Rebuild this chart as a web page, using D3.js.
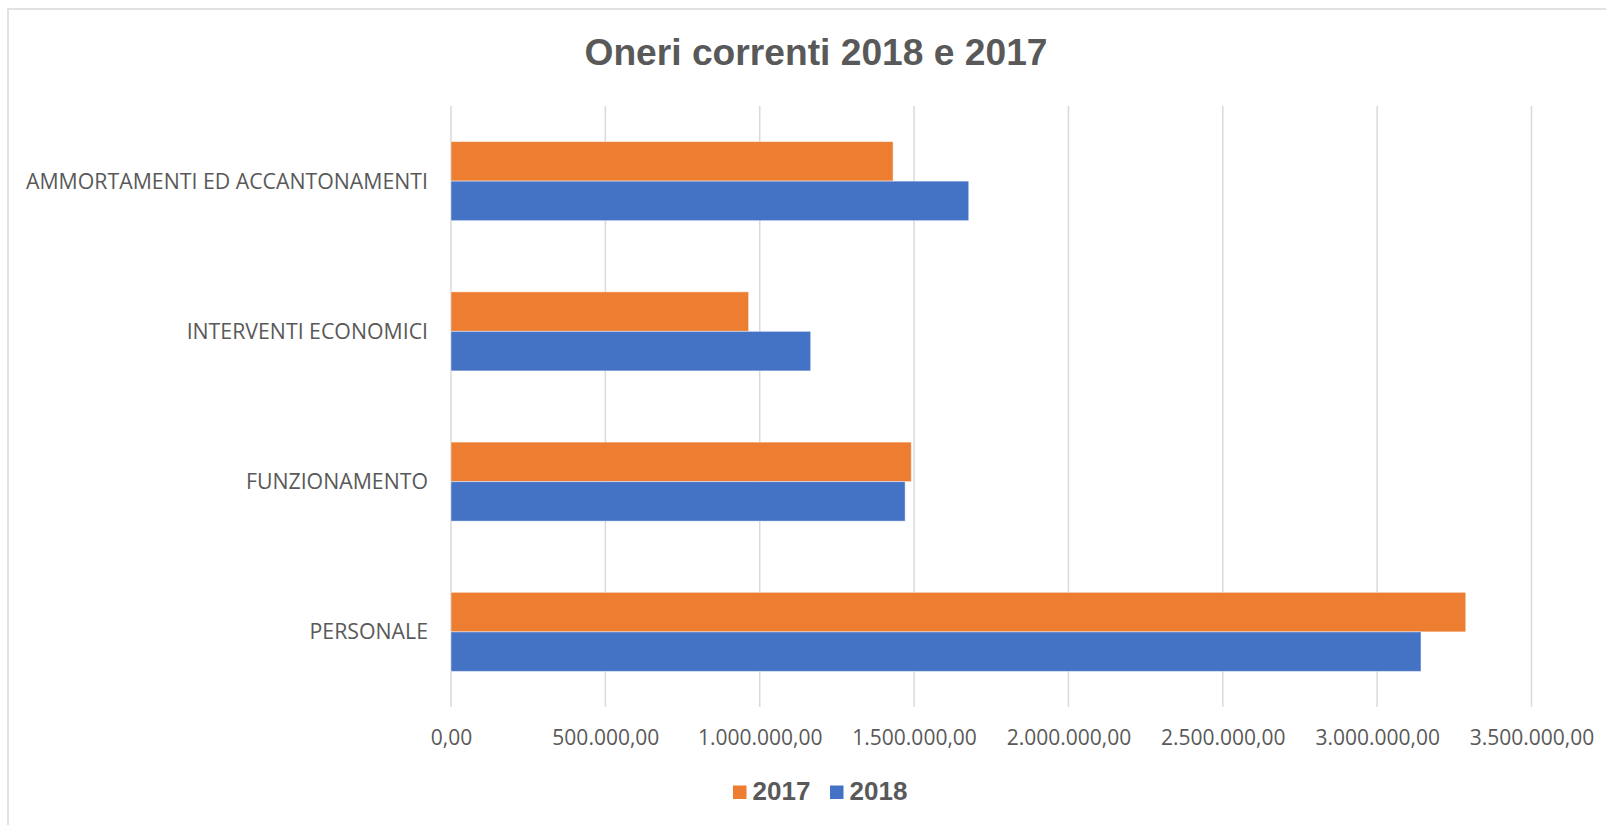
<!DOCTYPE html>
<html>
<head>
<meta charset="utf-8">
<script src="https://cdn.jsdelivr.net/npm/d3@7"></script>
<style>
  html, body { margin: 0; padding: 0; background: #fff; }
  svg { display: block; }
</style>
</head>
<body>
<svg id="chart" width="1606" height="825"></svg>
<script>
// ---- Data ----
const categories = ["AMMORTAMENTI ED ACCANTONAMENTI", "INTERVENTI ECONOMICI", "FUNZIONAMENTO", "PERSONALE"];
const seriesNames = ["2017", "2018"];
const values2017 = [1432000, 964000, 1491000, 3287000];
const values2018 = [1677000, 1165000, 1471000, 3142000];
const xTicks = [0, 500000, 1000000, 1500000, 2000000, 2500000, 3000000, 3500000];
const title = "Oneri correnti 2018 e 2017";
const colors = { "2017": "#ED7D31", "2018": "#4472C4" };

// ---- Layout ----
const W = 1606, H = 825;
const plot = { left: 451, right: 1531.5, top: 106, bottom: 707 };

const svg = d3.select("#chart");

// chart border
svg.append("rect")
  .attr("x", 8).attr("y", 9)
  .attr("width", W + 10).attr("height", H + 10)
  .attr("fill", "#fff")
  .attr("stroke", "#d9d9d9").attr("stroke-width", 1.5);

// title
svg.append("text")
  .attr("x", 816).attr("y", 65)
  .attr("text-anchor", "middle")
  .attr("font-family", "Liberation Sans, Arial, sans-serif")
  .attr("font-weight", "bold")
  .attr("font-size", 37.2)
  .attr("fill", "#595959")
  .text(title);

const x = d3.scaleLinear().domain([0, 3500000]).range([plot.left, plot.right]);
const y = d3.scaleBand().domain(categories).range([plot.top, plot.bottom])
  .paddingInner(0.474).paddingOuter(0.237);
const ySub = d3.scaleBand().domain(seriesNames).range([0, y.bandwidth()]);

const itLocale = d3.formatLocale({ decimal: ",", thousands: ".", grouping: [3], currency: ["€", ""] });
const fmt = itLocale.format(",.2f");

// gridlines
svg.append("g")
  .selectAll("line")
  .data(xTicks)
  .join("line")
  .attr("x1", d => x(d)).attr("x2", d => x(d))
  .attr("y1", plot.top).attr("y2", plot.bottom)
  .attr("stroke", "#d9d9d9").attr("stroke-width", 1.5);

// x axis (labels only)
const xAxis = d3.axisBottom(x).tickValues(xTicks).tickFormat(fmt).tickSize(0).tickPadding(0);
const gx = svg.append("g").attr("transform", `translate(0,${plot.bottom})`).call(xAxis);
gx.select(".domain").remove();
gx.selectAll("text")
  .attr("y", 38).attr("dy", 0)
  .attr("font-family", "Open Sans, sans-serif")
  .attr("font-size", 21)
  .attr("fill", "#595959");

// y axis (labels only)
const yAxis = d3.axisLeft(y).tickSize(0).tickPadding(0);
const gy = svg.append("g").attr("transform", `translate(428,0)`).call(yAxis);
gy.select(".domain").remove();
gy.selectAll("text")
  .attr("x", 0).attr("dy", "0.35em")
  .attr("font-family", "Open Sans, sans-serif")
  .attr("font-size", 21.3)
  .attr("fill", "#595959");

// bars
const rows = categories.map((c, i) => ({ cat: c, vals: [
  { s: "2017", v: values2017[i] },
  { s: "2018", v: values2018[i] }
]}));

const g = svg.append("g");
g.selectAll("g.cat")
  .data(rows)
  .join("g")
  .attr("class", "cat")
  .attr("transform", d => `translate(0,${y(d.cat)})`)
  .selectAll("rect")
  .data(d => d.vals)
  .join("rect")
  .attr("x", x(0))
  .attr("y", d => ySub(d.s))
  .attr("width", d => x(d.v) - x(0))
  .attr("height", ySub.bandwidth())
  .attr("fill", d => colors[d.s])
  .attr("stroke", "#ffffff").attr("stroke-opacity", 0.45).attr("stroke-width", 1);

// legend
const legend = svg.append("g");
const legendItems = [
  { s: "2017", x: 733 },
  { s: "2018", x: 830 }
];
legendItems.forEach(it => {
  legend.append("rect")
    .attr("x", it.x).attr("y", 785.5)
    .attr("width", 13.5).attr("height", 13.5)
    .attr("fill", colors[it.s]);
  legend.append("text")
    .attr("x", it.x + 19.5).attr("y", 799.5)
    .attr("font-family", "Liberation Sans, Arial, sans-serif")
    .attr("font-weight", "bold")
    .attr("font-size", 26)
    .attr("fill", "#595959")
    .text(it.s);
});
</script>
</body>
</html>
